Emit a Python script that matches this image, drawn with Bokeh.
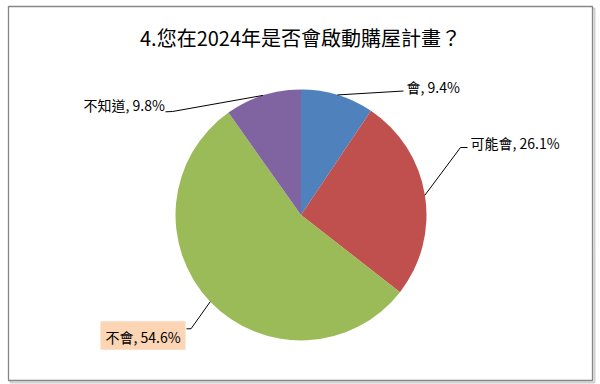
import math
from bokeh.plotting import figure
from bokeh.models import Range1d
from bokeh.core.properties import value
from bokeh.embed import file_html
from bokeh.resources import INLINE

# ---- data ----
title_text = "4.您在2024年是否會啟動購屋計畫？"
categories = ["會", "可能會", "不會", "不知道"]
shares = [9.4, 26.1, 54.6, 9.8]
colors = ["#4F81BD", "#C0504D", "#9BBB59", "#8064A2"]

W, H = 600, 384
FONT = value("Noto Sans CJK TC")

def Y(y):
    return H - y

p = figure(width=W, height=H, x_range=Range1d(0, W), y_range=Range1d(0, H),
           output_backend="svg", toolbar_location=None, min_border=0)
p.axis.visible = False
p.grid.visible = False
p.outline_line_color = None
p.background_fill_color = "white"

# chart border with faint shadow
p.quad(left=[10], right=[594], top=[Y(8)], bottom=[Y(382)], fill_color=None,
       line_color="#d0d0d0", line_width=2)
p.quad(left=[8], right=[592], top=[Y(6)], bottom=[Y(380)], fill_color="white",
       line_color="#868686", line_width=1.3)

# pie
cx, cy, r = 300.5, Y(214.5), 125.5
total = sum(shares)
starts, ends, mids = [], [], []
c = 0.0
for s in shares:
    a0 = math.pi / 2 - 2 * math.pi * c / total
    c += s
    a1 = math.pi / 2 - 2 * math.pi * c / total
    starts.append(a0)
    ends.append(a1)
    mids.append((a0 + a1) / 2)
p.wedge(x=[cx] * len(shares), y=[cy] * len(shares), radius=r,
        start_angle=starts, end_angle=ends, direction="clock",
        fill_color=colors, line_color=None)

# leader lines (from slice edge midpoints)
edge = [(cx + r * math.cos(m), cy + r * math.sin(m)) for m in mids]
leader_pts = [
    [(403, Y(90.5))],
    [(460, Y(147)), (467, Y(147))],
    [(190.5, Y(328.3)), (186, Y(328.3))],
    [(172, Y(111)), (165, Y(111.3))],
]
xs, ys = [], []
for (ex, ey), pts in zip(edge, leader_pts):
    xs.append([ex] + [q[0] for q in pts])
    ys.append([ey] + [q[1] for q in pts])
p.multi_line(xs=xs, ys=ys, line_color="#000000", line_width=1)

# highlighted label box for 不會
p.quad(left=[100], right=[185], top=[Y(320.7)], bottom=[Y(349.3)],
       fill_color="#FCD5B5", line_color=None)

labels = [f"{cat}, {v}%" for cat, v in zip(categories, shares)]
lx = [406, 470, 105, 83]
ly = [Y(86), Y(142), Y(336), Y(104)]
p.text(x=lx, y=ly, text=labels, text_font=FONT, text_font_size="14px",
       text_baseline="middle", text_align="left", text_color="#000000")

# title
p.text(x=[300], y=[Y(37)], text=[title_text], text_font=FONT,
       text_font_size="20px", text_baseline="middle", text_align="center",
       text_color="#000000")

open("out.html", "w").write(file_html(p, INLINE))
